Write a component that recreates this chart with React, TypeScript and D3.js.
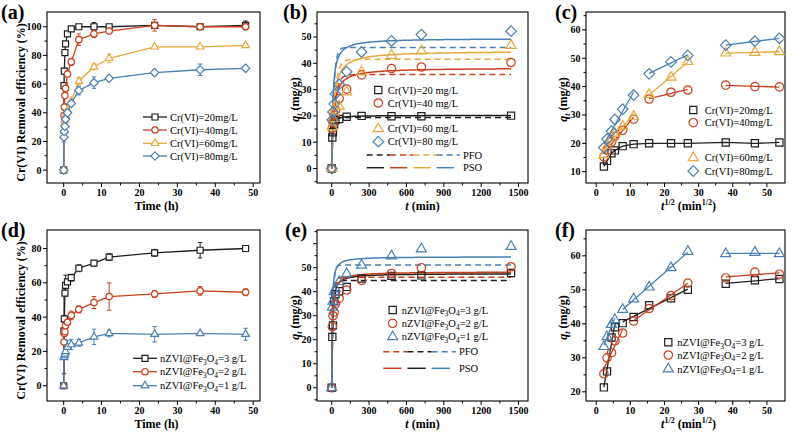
import React from 'react';
import * as d3 from 'd3';

// ---------------- colours ----------------
const BLACK = '#1f1f1f';
const RED = '#c8401e';
const GOLD = '#e8a83c';
const BLUE = '#4b80b4';
const FONT = "'Liberation Serif', 'Times New Roman', serif";

// ---------------- (a) removal vs time, Cr(VI) concentration ----------------
const hoursA = [0, 0.083, 0.167, 0.333, 0.5, 1, 2, 4, 8, 12, 24, 36, 48];
const remA20 = [0, 59, 69, 82, 88, 95, 98.5, 100, 100, 100, 101, 100, 101];
const errA20 = [0, 2, 2, 1, 1, 1.5, 1, 0.5, 3, 1, 1, 1, 3];
const remA40 = [0, 38, 44, 52, 57, 67, 75.5, 91, 95, 97, 101, 100, 100];
const errA40 = [0, 2, 2, 2, 2, 2, 2.5, 4, 2.5, 2, 4, 1, 2];
const remA60 = [0, 27, 32.5, 35, 38, 42, 48, 62, 72, 78, 86, 86, 87];
const errA60 = [0, 1, 1, 1, 1, 1, 1, 2.5, 2, 3, 1, 1, 1];
const remA80 = [0, 23, 27, 30.5, 35.5, 40, 46.5, 55.5, 61, 64, 68, 70, 71];
const errA80 = [0, 3, 2, 2, 2, 2, 2, 3, 4, 1.5, 2, 4, 1.5];
const labelsA = ['Cr(VI)=20mg/L', 'Cr(VI)=40mg/L', 'Cr(VI)=60mg/L', 'Cr(VI)=80mg/L'];

// ---------------- (b) qt vs t ----------------
const minutesB = [0, 5, 10, 20, 30, 60, 120, 240, 480, 720, 1440];
const qB20 = [0, 11.8, 13.8, 16.8, 18.4, 18.8, 19.7, 20, 19.9, 19.9, 20.1];
const qB40 = [0, 15.3, 17.5, 20.3, 22, 26.6, 30.2, 35.6, 38, 38.6, 40.3];
const qB60 = [0, 15.8, 19, 21.5, 23.5, 23.7, 29.1, 36.8, 43, 44.7, 46.8];
const qB80 = [0, 18.5, 21.5, 24.5, 28.3, 32, 36.8, 44.3, 48.5, 50.9, 52.2];
const pfoQeB = [19.4, 35.7, 41.5, 46.0];
const pfoK1B = [0.12, 0.04, 0.04, 0.06];
const psoQeB = [20.2, 38.3, 44.7, 49.5];
const psoK2B = [0.015, 0.0018, 0.0014, 0.0022];
const labelsB = ['Cr(VI)=20 mg/L', 'Cr(VI)=40 mg/L', 'Cr(VI)=60 mg/L', 'Cr(VI)=80 mg/L'];

// ---------------- (c) intraparticle diffusion ----------------
const minutesC = [5, 10, 20, 30, 60, 120, 240, 480, 720, 1440, 2160, 2880];
const qC20 = [11.8, 13.8, 16.5, 17.5, 19.0, 19.7, 20.0, 20.0, 20.0, 20.3, 20.0, 20.3];
const qC40 = [15.2, 17.5, 20.5, 22.5, 24.6, 28.5, 35.6, 38.0, 38.8, 40.5, 40.0, 39.9];
const qC60 = [16.0, 19.0, 21.5, 23.5, 26.0, 29.5, 37.2, 43.3, 48.8, 51.8, 52.0, 52.3];
const qC80 = [18.5, 21.5, 24.3, 28.4, 32.0, 37.0, 44.5, 48.7, 51.0, 54.6, 56.0, 57.0];
const stagesC = [[0, 5], [6, 8], [9, 11]];

// ---------------- (d) removal vs time, dosage ----------------
const hoursD = [0, 0.083, 0.167, 0.333, 0.5, 1, 2, 4, 8, 12, 24, 36, 48];
const remD3 = [0, 32, 39, 54, 58.5, 60.5, 63, 68.5, 71.5, 75, 77.5, 79, 80];
const errD3 = [0, 25, 2, 1, 6, 1, 2, 2, 1.5, 2, 2, 4.5, 1];
const remD2 = [0, 25.5, 30.5, 31.5, 35, 37, 41, 44.5, 48.5, 52, 53.5, 55.3, 54.5];
const errD2 = [0, 1, 1, 1, 1, 1.5, 2.5, 2, 3.5, 8, 2, 2.5, 2];
const remD1 = [0, 16.5, 17.5, 18.5, 20, 22.5, 24, 25, 28.5, 30.5, 30, 30.5, 30];
const errD1 = [0, 1, 1, 1, 1, 4, 3, 2, 4.5, 2, 4.5, 1, 3.5];
const dosesD = ['3', '2', '1'];

// ---------------- (e) qt vs t, dosage ----------------
const minutesE = [0, 5, 10, 20, 30, 60, 120, 240, 480, 720, 1440];
const qE3 = [0, 21.2, 26, 36, 39, 40.2, 42, 45.5, 46.6, 46.8, 47.8];
const qE2 = [0, 25.5, 30, 31.5, 35, 37.2, 40.7, 44.7, 47.6, 50, 50.4];
const qE1 = [0, 33.5, 36, 40, 41.2, 44.2, 47.5, 51, 54.9, 57.8, 58.8];
const pfoQeE = [44.7, 46.0, 51.1];
const pfoK1E = [0.09, 0.08, 0.1];
const psoQeE = [47.6, 48.3, 54.6];
const psoK2E = [0.004, 0.0035, 0.005];

// ---------------- (f) intraparticle diffusion, dosage ----------------
const minutesF = [5, 10, 20, 30, 60, 120, 240, 480, 720, 1440, 2160, 2880];
const qF3 = [21.3, 26.0, 36.0, 39.0, 40.2, 42.0, 45.5, 47.5, 50.0, 51.8, 52.8, 53.2];
const qF2 = [25.3, 30.0, 31.5, 35.0, 37.3, 40.8, 44.5, 48.3, 52.0, 53.5, 55.2, 54.6];
const qF1 = [33.3, 36.2, 39.8, 41.2, 44.2, 47.3, 50.8, 56.5, 61.3, 60.6, 61.0, 60.6];
const stagesF3 = [[0, 3], [4, 8], [9, 11]];
const stagesF2 = [[0, 4], [5, 8], [9, 11]];
const stagesF1 = [[0, 3], [4, 8], [9, 11]];

// ---------------- helpers ----------------
type Shape = 'square' | 'circle' | 'triangle' | 'diamond';

function shapePath(shape: Shape, s: number): string {
  if (shape === 'square') return `M${-s},${-s}h${2 * s}v${2 * s}h${-2 * s}Z`;
  if (shape === 'circle') return `M${-s},0a${s},${s} 0 1,0 ${2 * s},0a${s},${s} 0 1,0 ${-2 * s},0Z`;
  if (shape === 'triangle') {
    const h = s * Math.sqrt(3);
    return `M0,${(-h * 2) / 3}L${s},${h / 3}L${-s},${h / 3}Z`;
  }
  return `M0,${-s}L${s},0L0,${s}L${-s},0Z`;
}

const SMALL: Record<Shape, number> = { square: 3, circle: 3.2, triangle: 3.8, diamond: 4.2 };
const BIG: Record<Shape, number> = { square: 3.6, circle: 4.2, triangle: 5, diamond: 5.3 };

function Marker({ cx, cy, shape, color, size, fill }: any) {
  return (
    <path d={shapePath(shape, size[shape])} transform={`translate(${cx},${cy})`} fill={fill} stroke={color} strokeWidth={1.2} />
  );
}

function Frame({ box, x, y, xMajor, xMinor, yMajor, yMinor, yLabeled }: any) {
  const tf = { fontFamily: FONT, fontWeight: 'bold', fontSize: 10, fill: '#000' } as any;
  return (
    <g>
      {xMajor.map((v: number) => (
        <g key={'xM' + v}>
          <line x1={x(v)} x2={x(v)} y1={box.b} y2={box.b + 4} stroke="#000" strokeWidth={1} />
          <text x={x(v)} y={box.b + 12.5} textAnchor="middle" {...tf}>{v}</text>
        </g>
      ))}
      {xMinor.map((v: number) => (
        <line key={'xm' + v} x1={x(v)} x2={x(v)} y1={box.b} y2={box.b + 2.5} stroke="#000" strokeWidth={1} />
      ))}
      {yMajor.map((v: number) => (
        <g key={'yM' + v}>
          <line x1={box.l - 4} x2={box.l} y1={y(v)} y2={y(v)} stroke="#000" strokeWidth={1} />
          {(!yLabeled || yLabeled.includes(v)) && (
            <text x={box.l - 5.5} y={y(v) + 3.5} textAnchor="end" {...tf}>{v}</text>
          )}
        </g>
      ))}
      {yMinor.map((v: number) => (
        <line key={'ym' + v} x1={box.l - 2.5} x2={box.l} y1={y(v)} y2={y(v)} stroke="#000" strokeWidth={1} />
      ))}
      <rect x={box.l} y={box.t} width={box.r - box.l} height={box.b - box.t} fill="none" stroke="#000" strokeWidth={1.1} />
    </g>
  );
}

function ErrorBars({ xs, ys, errs, x, y, color }: any) {
  return (
    <g>
      {xs.map((t: number, i: number) =>
        errs[i] > 0 ? (
          <g key={i} stroke={color} strokeWidth={1}>
            <line x1={x(t)} x2={x(t)} y1={y(ys[i] - errs[i])} y2={y(ys[i] + errs[i])} />
            <line x1={x(t) - 2.2} x2={x(t) + 2.2} y1={y(ys[i] - errs[i])} y2={y(ys[i] - errs[i])} />
            <line x1={x(t) - 2.2} x2={x(t) + 2.2} y1={y(ys[i] + errs[i])} y2={y(ys[i] + errs[i])} />
          </g>
        ) : null
      )}
    </g>
  );
}

function fitSeg(xs: number[], ys: number[]) {
  const mx = d3.mean(xs) as number;
  const my = d3.mean(ys) as number;
  let num = 0;
  let den = 0;
  xs.forEach((v, i) => {
    num += (v - mx) * (ys[i] - my);
    den += (v - mx) * (v - mx);
  });
  const k = num / den;
  const x0 = xs[0];
  const x1 = xs[xs.length - 1];
  return [x0, my + k * (x0 - mx), x1, my + k * (x1 - mx)];
}

const tGrid = d3.range(0, 30, 0.25).concat(d3.range(30, 1441, 5));
const pfo = (qe: number, k: number) => tGrid.map((t) => [t, qe * (1 - Math.exp(-k * t))] as [number, number]);
const pso = (qe: number, k: number) => tGrid.map((t) => [t, (k * qe * qe * t) / (1 + k * qe * t)] as [number, number]);

function NZVI({ x, y, dose }: any) {
  return (
    <text x={x} y={y} fontFamily={FONT} fontSize={10.5} fill="#000">
      nZVI@Fe
      <tspan fontSize={7.5} dy={2.5}>3</tspan>
      <tspan dy={-2.5}>O</tspan>
      <tspan fontSize={7.5} dy={2.5}>4</tspan>
      <tspan dy={-2.5}>{`=${dose} g/L`}</tspan>
    </text>
  );
}

function QtLabel({ x, y }: any) {
  return (
    <text transform={`translate(${x},${y}) rotate(-90)`} textAnchor="middle" fontFamily={FONT} fontWeight="bold" fontSize={12} fill="#000">
      <tspan fontStyle="italic">q</tspan>
      <tspan fontSize={8} dy={2.5} fontStyle="italic">t</tspan>
      <tspan dy={-2.5}> (mg/g)</tspan>
    </text>
  );
}

function Letter({ x, y, s }: any) {
  return (
    <text x={x} y={y} fontFamily={FONT} fontWeight="bold" fontSize={20} fill="#000">{s}</text>
  );
}

// ---------------- panels ----------------
function PanelRemoval({ box, yDomain, yMajor, yMinor, xs, data, errs, colors, shapes, legendRows, legendKind, letter }: any) {
  const x = d3.scaleLinear().domain([-4.4, 51.8]).range([box.l, box.r]);
  const y = d3.scaleLinear().domain(yDomain).range([box.b, box.t]);
  const line = d3.line<number>().x((_, i) => x(xs[i])).y((d) => y(d));
  const lx = legendKind === 'a' ? 143 : 133;
  return (
    <g>
      <Frame box={box} x={x} y={y} xMajor={[0, 10, 20, 30, 40, 50]} xMinor={[5, 15, 25, 35, 45]} yMajor={yMajor} yMinor={yMinor} />
      {data.map((ys: number[], k: number) => (
        <g key={k}>
          <ErrorBars xs={xs} ys={ys} errs={errs[k]} x={x} y={y} color={colors[k]} />
          <path d={line(ys) as string} fill="none" stroke={colors[k]} strokeWidth={1.3} />
          {ys.map((v: number, i: number) => (
            <Marker key={i} cx={x(xs[i])} cy={y(v)} shape={shapes[k]} color={colors[k]} size={SMALL} fill="#fff" />
          ))}
        </g>
      ))}
      {legendRows.map((ry: number, k: number) => (
        <g key={'lg' + k}>
          <line x1={lx} x2={lx + 24} y1={ry} y2={ry} stroke={colors[k]} strokeWidth={1.3} />
          <Marker cx={lx + 12} cy={ry} shape={shapes[k]} color={colors[k]} size={SMALL} fill="#fff" />
          {legendKind === 'a' ? (
            <text x={lx + 27} y={ry + 3.7} fontFamily={FONT} fontSize={10.5} fill="#000">{labelsA[k]}</text>
          ) : (
            <NZVI x={lx + 27} y={ry + 3.7} dose={dosesD[k]} />
          )}
        </g>
      ))}
      <text transform={`translate(25,${(box.t + box.b) / 2 + 5}) rotate(-90)`} textAnchor="middle" fontFamily={FONT} fontWeight="bold" fontSize={12} fill="#000">
        Cr(VI) Removal efficiency (%)
      </text>
      <text x={(box.l + box.r) / 2 + 3} y={box.b + 27} textAnchor="middle" fontFamily={FONT} fontWeight="bold" fontSize={12} fill="#000">
        Time (h)
      </text>
      <Letter x={1} y={box.t + 6.5} s={letter} />
    </g>
  );
}

function PanelKinetics({ box, yDomain, yMajor, yMinor, yLabeled, xs, data, colors, shapes, pfoCurves, psoCurves, legendRows, legendX, legendLabels, modelRows, modelX, modelOrder, letter, letterX }: any) {
  const x = d3.scaleLinear().domain([-118, 1576]).range([box.l, box.r]);
  const y = d3.scaleLinear().domain(yDomain).range([box.b, box.t]);
  const cl = d3.line<[number, number]>().x((d) => x(d[0])).y((d) => y(d[1]));
  const n = modelOrder.length;
  const step = n === 4 ? 23.3 : 24.2;
  return (
    <g>
      <Frame box={box} x={x} y={y} xMajor={[0, 300, 600, 900, 1200, 1500]} xMinor={[150, 450, 750, 1050, 1350]} yMajor={yMajor} yMinor={yMinor} yLabeled={yLabeled} />
      {pfoCurves.map((c: any, k: number) => (
        <path key={'pfo' + k} d={cl(c) as string} fill="none" stroke={colors[k]} strokeWidth={1.5} strokeDasharray="6,4" />
      ))}
      {psoCurves.map((c: any, k: number) => (
        <path key={'pso' + k} d={cl(c) as string} fill="none" stroke={colors[k]} strokeWidth={1.5} />
      ))}
      {data.map((ys: number[], k: number) => (
        <g key={k}>
          {ys.map((v: number, i: number) => (
            <Marker key={i} cx={x(xs[i])} cy={y(v)} shape={shapes[k]} color={colors[k]} size={BIG} fill="none" />
          ))}
        </g>
      ))}
      {legendRows.map((ry: number, k: number) => (
        <g key={'lg' + k}>
          <Marker cx={legendX} cy={ry} shape={shapes[k]} color={colors[k]} size={BIG} fill="none" />
          {legendLabels ? (
            <text x={legendX + 9.5} y={ry + 3.7} fontFamily={FONT} fontSize={10.5} fill="#000">{legendLabels[k]}</text>
          ) : (
            <NZVI x={legendX + 9} y={ry + 3.7} dose={dosesD[k]} />
          )}
        </g>
      ))}
      {modelOrder.map((k: number, j: number) => (
        <g key={'md' + j}>
          <line x1={modelX + j * step} x2={modelX + (j + 1) * step} y1={modelRows[0]} y2={modelRows[0]} stroke={colors[k]} strokeWidth={1.5} strokeDasharray="6,4" />
          <line x1={modelX + j * step} x2={modelX + j * step + step - 6} y1={modelRows[1]} y2={modelRows[1]} stroke={colors[k]} strokeWidth={1.5} />
        </g>
      ))}
      <text x={modelX + n * step + 3} y={modelRows[0] + 3.7} fontFamily={FONT} fontSize={10.5} fill="#000">PFO</text>
      <text x={modelX + n * step + 3} y={modelRows[1] + 3.7} fontFamily={FONT} fontSize={10.5} fill="#000">PSO</text>
      <QtLabel x={box.l - 18} y={(box.t + box.b) / 2 + 2} />
      <text x={(box.l + box.r) / 2} y={box.b + 27} textAnchor="middle" fontFamily={FONT} fontWeight="bold" fontSize={12} fill="#000">
        <tspan fontStyle="italic">t</tspan> (min)
      </text>
      <Letter x={letterX} y={box.t + 6.5} s={letter} />
    </g>
  );
}

function PanelDiffusion({ box, yDomain, yMajor, yMinor, minutes, data, colors, shapes, stages, polyline, legendRows, legendX, legendLabels, letter }: any) {
  const x = d3.scaleLinear().domain([-3, 55.3]).range([box.l, box.r]);
  const y = d3.scaleLinear().domain(yDomain).range([box.b, box.t]);
  const sx = minutes.map((m: number) => Math.sqrt(m));
  const line = d3.line<number>().x((_, i) => x(sx[i])).y((d) => y(d));
  return (
    <g>
      <Frame box={box} x={x} y={y} xMajor={[0, 10, 20, 30, 40, 50]} xMinor={[5, 15, 25, 35, 45]} yMajor={yMajor} yMinor={yMinor} />
      {data.map((ys: number[], k: number) => (
        <g key={k}>
          {polyline[k] ? (
            <path d={line(ys) as string} fill="none" stroke={colors[k]} strokeWidth={1.3} />
          ) : (
            stages[k].map((sg: number[], j: number) => {
              const f = fitSeg(sx.slice(sg[0], sg[1] + 1), ys.slice(sg[0], sg[1] + 1));
              return <line key={j} x1={x(f[0])} y1={y(f[1])} x2={x(f[2])} y2={y(f[3])} stroke={colors[k]} strokeWidth={1.3} />;
            })
          )}
          {ys.map((v: number, i: number) => (
            <Marker key={i} cx={x(sx[i])} cy={y(v)} shape={shapes[k]} color={colors[k]} size={BIG} fill="none" />
          ))}
        </g>
      ))}
      {legendRows.map((ry: number, k: number) => (
        <g key={'lg' + k}>
          <Marker cx={legendX} cy={ry} shape={shapes[k]} color={colors[k]} size={BIG} fill="none" />
          {legendLabels ? (
            <text x={legendX + 11.5} y={ry + 3.7} fontFamily={FONT} fontSize={10.5} fill="#000">{legendLabels[k]}</text>
          ) : (
            <NZVI x={legendX + 9} y={ry + 3.7} dose={dosesD[k]} />
          )}
        </g>
      ))}
      <QtLabel x={box.l - 19} y={(box.t + box.b) / 2 + 2} />
      <text x={(box.l + box.r) / 2 + 3} y={box.b + 27} textAnchor="middle" fontFamily={FONT} fontWeight="bold" fontSize={12} fill="#000">
        <tspan fontStyle="italic">t</tspan>
        <tspan fontSize={8} dy={-5}>1/2</tspan>
        <tspan dy={5}> (min</tspan>
        <tspan fontSize={8} dy={-5}>1/2</tspan>
        <tspan dy={5}>)</tspan>
      </text>
      <Letter x={box.l - 31} y={box.t + 6.5} s={letter} />
    </g>
  );
}

export default function App() {
  const row1 = { t: 12, b: 183 };
  const row2 = { t: 230, b: 401 };
  const colA = { l: 47, r: 260 };
  const colB = { l: 317, r: 528 };
  const colC = { l: 586, r: 785 };
  const cols4 = [BLACK, RED, GOLD, BLUE];
  const shapes4: Shape[] = ['square', 'circle', 'triangle', 'diamond'];
  const cols3 = [BLACK, RED, BLUE];
  const shapes3: Shape[] = ['square', 'circle', 'triangle'];
  return (
    <svg width={800} height={434} style={{ position: 'absolute', left: 0, top: 0, background: '#fff' }}>
      <rect width={800} height={434} fill="#fff" />
      <PanelRemoval
        box={{ ...colA, ...row1 }}
        yDomain={[-9, 110.3]}
        yMajor={[0, 20, 40, 60, 80, 100]}
        yMinor={[10, 30, 50, 70, 90]}
        xs={hoursA}
        data={[remA20, remA40, remA60, remA80]}
        errs={[errA20, errA40, errA60, errA80]}
        colors={cols4}
        shapes={shapes4}
        legendRows={[117, 130, 143.3, 156]}
        legendKind="a"
        letter="(a)"
      />
      <PanelKinetics
        box={{ ...colB, ...row1 }}
        yDomain={[-5.5, 59.5]}
        yMajor={[0, 10, 20, 30, 40, 50]}
        yMinor={[-5, 5, 15, 25, 35, 45, 55]}
        xs={minutesB}
        data={[qB20, qB40, qB60, qB80]}
        colors={cols4}
        shapes={shapes4}
        pfoCurves={pfoQeB.map((q, k) => pfo(q, pfoK1B[k]))}
        psoCurves={psoQeB.map((q, k) => pso(q, psoK2B[k]))}
        legendRows={[90, 103, 128.7, 141.7]}
        legendX={378.3}
        legendLabels={labelsB}
        modelRows={[155, 167.7]}
        modelX={366.7}
        modelOrder={[0, 1, 2, 3]}
        letter="(b)"
        letterX={283}
      />
      <PanelDiffusion
        box={{ ...colC, ...row1 }}
        yDomain={[6, 66.3]}
        yMajor={[10, 20, 30, 40, 50, 60]}
        yMinor={[15, 25, 35, 45, 55, 65]}
        minutes={minutesC}
        data={[qC20, qC40, qC60, qC80]}
        colors={cols4}
        shapes={shapes4}
        stages={[stagesC, stagesC, stagesC, stagesC]}
        polyline={[true, false, false, false]}
        legendRows={[110, 122.7, 157.7, 171]}
        legendX={693.3}
        legendLabels={['Cr(VI)=20mg/L', 'Cr(VI)=40mg/L', 'Cr(VI)=60mg/L', 'Cr(VI)=80mg/L']}
        letter="(c)"
      />
      <PanelRemoval
        box={{ ...colA, ...row2 }}
        yDomain={[-8.9, 90.8]}
        yMajor={[0, 20, 40, 60, 80]}
        yMinor={[10, 30, 50, 70]}
        xs={hoursD}
        data={[remD3, remD2, remD1]}
        errs={[errD3, errD2, errD1]}
        colors={cols3}
        shapes={shapes3}
        legendRows={[358.3, 371.7, 385.7]}
        legendKind="d"
        letter="(d)"
      />
      <PanelKinetics
        box={{ ...colB, ...row2 }}
        yDomain={[-5.5, 65.7]}
        yMajor={[0, 10, 20, 30, 40, 50, 60]}
        yLabeled={[0, 10, 20, 30, 40, 50]}
        yMinor={[-5, 5, 15, 25, 35, 45, 55, 65]}
        xs={minutesE}
        data={[qE3, qE2, qE1]}
        colors={cols3}
        shapes={shapes3}
        pfoCurves={pfoQeE.map((q, k) => pfo(q, pfoK1E[k]))}
        psoCurves={psoQeE.map((q, k) => pso(q, psoK2E[k]))}
        legendRows={[310, 323.3, 336.7]}
        legendX={392.7}
        legendLabels={null}
        modelRows={[351.7, 368.3]}
        modelX={383.3}
        modelOrder={[1, 0, 2]}
        letter="(e)"
        letterX={285}
      />
      <PanelDiffusion
        box={{ ...colC, ...row2 }}
        yDomain={[17.3, 67.6]}
        yMajor={[20, 30, 40, 50, 60]}
        yMinor={[25, 35, 45, 55, 65]}
        minutes={minutesF}
        data={[qF3, qF2, qF1]}
        colors={cols3}
        shapes={shapes3}
        stages={[stagesF3, stagesF2, stagesF1]}
        polyline={[false, false, false]}
        legendRows={[342.3, 355, 369]}
        legendX={668.3}
        legendLabels={null}
        letter="(f)"
      />
    </svg>
  );
}
